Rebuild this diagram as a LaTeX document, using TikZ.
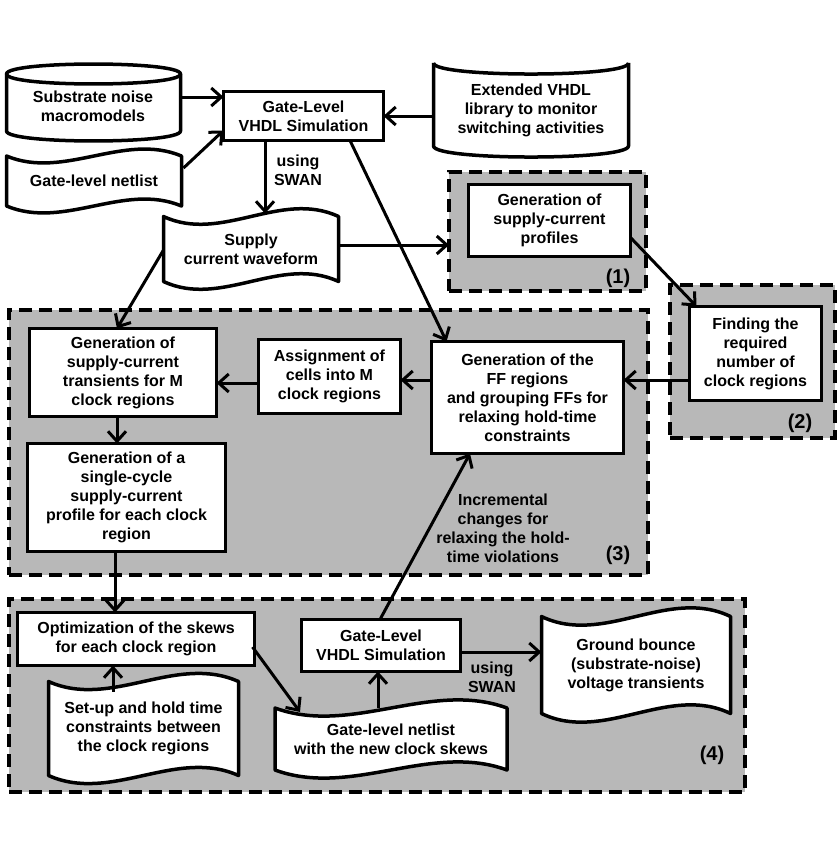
\documentclass[tikz,border=0pt]{standalone}
\usepackage{fontspec}
\setmainfont{Liberation Sans}
\usetikzlibrary{arrows.meta,calc}
\pgfdeclarelayer{bg}
\pgfdeclarelayer{mid}
\pgfsetlayers{bg,mid,main}
\newcommand\tapeoutline[2]{%
  \draw[boxline, fill=white] (#1.north west)
    .. controls ($(#1.north west)!0.33!(#1.north east)+(0,#2)$) and ($(#1.north west)!0.67!(#1.north east)+(0,-#2)$) .. (#1.north east)
    -- (#1.south east)
    .. controls ($(#1.south west)!0.67!(#1.south east)+(0,-#2)$) and ($(#1.south west)!0.33!(#1.south east)+(0,#2)$) .. (#1.south west)
    -- cycle;}
\tikzset{
  txt/.style={font=\fontsize{16}{19}\selectfont\bfseries, align=center, inner sep=0pt, outer sep=0pt},
  numlbl/.style={font=\fontsize{20}{22}\selectfont\bfseries, inner sep=0pt, outer sep=0pt},
  blk/.style={txt, draw, fill=white, line width=3.5pt},
  region/.style={draw, fill=black!28, line width=4pt, dash pattern=on 13pt off 7pt, inner sep=0pt, outer sep=0pt},
  arr/.style={line width=3pt, -{Straight Barb[length=10pt,width=18pt]}},
  boxline/.style={line width=3.5pt, line join=round},
}
\begin{document}
\begin{tikzpicture}[x=1pt,y=-1pt]
\begin{pgfonlayer}{bg}
  \fill[white] (0,0) rectangle (840,859);
  \node[region, minimum width=197pt, minimum height=119pt] (r1) at (547.5,231.5) {};
  \node[region, minimum width=165pt, minimum height=153pt] (r2) at (752.5,361.5) {};
  \node[region, minimum width=639pt, minimum height=265pt] (r3) at (328.5,442.5) {};
  \node[region, minimum width=736pt, minimum height=193pt] (r4) at (377,695.5) {};
\end{pgfonlayer}
\useasboundingbox (0,0) rectangle (840,859);

% cylinders and tapes (text nodes)
\node[txt, minimum width=174pt, minimum height=60pt] (sub) at (93,106) {Substrate noise\\macromodels};
\node[txt, minimum width=195pt, minimum height=80pt] (ext) at (531,110) {Extended VHDL\\library to monitor\\switching activities};
\node[txt, minimum width=175pt, minimum height=50pt] (net1) at (94,181) {Gate-level netlist};
\node[txt, minimum width=175pt, minimum height=65pt] (supply) at (251,249) {Supply\\current waveform};
\node[txt, minimum width=190pt, minimum height=94pt] (setup) at (143.5,728.5) {Set-up and hold time\\constraints between\\the clock regions};
\node[txt, minimum width=232pt, minimum height=62pt] (netnew) at (391,739) {Gate-level netlist\\with the new clock skews};
\node[txt, minimum width=189pt, minimum height=97pt] (ground) at (636,665) {Ground bounce\\(substrate-noise)\\voltage transients};

\begin{pgfonlayer}{mid}
  \draw[boxline, fill=white] (6.5,74) -- (6.5,131) .. controls (6.5,144.3) and (180.5,144.3) .. (180.5,131)
     -- (180.5,74) .. controls (180.5,60.7) and (6.5,60.7) .. cycle;
  \draw[boxline] (6.5,74) .. controls (6.5,87.3) and (180.5,87.3) .. (180.5,74);
  \draw[boxline, fill=white] (433.5,63) -- (433.5,146) .. controls (433.5,160.7) and (628.5,160.7) .. (628.5,146) -- (628.5,63);
  \draw[boxline] (433.5,63) .. controls (433.5,77.7) and (628.5,77.7) .. (628.5,63);
  \tapeoutline{net1}{24}
  \tapeoutline{supply}{27}
  \tapeoutline{setup}{28}
  \tapeoutline{netnew}{28}
  \tapeoutline{ground}{30}
\end{pgfonlayer}

% boxes
\node[blk, minimum width=160pt, minimum height=49pt] (gl1) at (303.5,116) {Gate-Level\\VHDL Simulation};
\node[blk, minimum width=162pt, minimum height=72pt] (gen1) at (549.5,220.5) {Generation of\\supply-current\\profiles};
\node[blk, minimum width=132pt, minimum height=94pt] (find) at (755.5,353.5) {Finding the\\required\\number of\\clock regions};
\node[blk, minimum width=187pt, minimum height=88pt] (trans) at (123,372.5) {Generation of\\supply-current\\transients for M\\clock regions};
\node[blk, minimum width=142pt, minimum height=74pt] (assign) at (329.5,376.5) {Assignment of\\cells into M\\clock regions};
\node[blk, minimum width=192pt, minimum height=112pt] (ffreg) at (527.5,397.5) {Generation of the\\FF regions\\and grouping FFs for\\relaxing hold-time\\constraints};
\node[blk, minimum width=198pt, minimum height=108pt] (single) at (126.5,497.5) {Generation of a\\single-cycle\\supply-current\\profile for each clock\\region};
\node[blk, minimum width=237pt, minimum height=53pt] (opt) at (136,639) {Optimization of the skews\\for each clock region};
\node[blk, minimum width=159pt, minimum height=52pt] (gl2) at (381,645.5) {Gate-Level\\VHDL Simulation};

% labels
\node[txt] (swan1) at (298,170) {using\\SWAN};
\node[txt] (swan2) at (492,677) {using\\SWAN};
\node[txt] (incr) at (503,528) {Incremental\\changes for\\relaxing the hold-\\time violations};
\node[numlbl] (l1) at (618,278) {(1)};
\node[numlbl] (l2) at (800,423) {(2)};
\node[numlbl] (l3) at (618,555) {(3)};
\node[numlbl] (l4) at (712,755) {(4)};

% connectors
\draw[arr] ($(sub.east)+(0,-9)$) -- ($(gl1.west)+(0,-19)$);
\draw[arr] ($(net1.east)+(2,-13)$) -- ($(gl1.south west)+(0,-10)$);
\draw[arr] ($(ext.west)+(0,6)$) -- (gl1.east);
\draw[arr] ($(gl1.south)+(-38.5,0)$) -- ($(supply.north)+(14,-3)$);
\draw[arr] ($(supply.east)+(0,-4)$) -- ($(r1.west)+(0,13.5)$);
\draw[arr] ($(gen1.east)+(0,17)$) -- ($(find.north west)+(7,0)$);
\draw[arr] ($(find.west)+(0,26.5)$) -- ($(ffreg.east)+(0,-17.5)$);
\draw[arr] ($(ffreg.west)+(0,-17.5)$) -- ($(assign.east)+(0,3.5)$);
\draw[arr] ($(assign.west)+(0,6.5)$) -- ($(trans.east)+(0,10.5)$);
\draw[arr] ($(trans.south)+(-6,0)$) -- ($(single.north)+(-9.5,0)$);
\draw[arr] ($(supply.west)+(0,1)$) -- ($(trans.north)+(-6,0)$);
\draw[arr] ($(gl1.south)+(46.5,0)$) -- ($(ffreg.north west)+(15,0)$);
\draw[arr] ($(single.south)+(-11.5,0)$) -- ($(opt.north)+(-21,0)$);
\draw[arr] ($(setup.north)+(-30.5,10)$) -- ($(opt.south)+(-23,0)$);
\draw[arr] ($(opt.east)+(-2,8)$) -- ($(netnew.north west)+(25,4)$);
\draw[arr] ($(netnew.north)+(-13,0)$) -- ($(gl2.south)+(-3,0)$);
\draw[arr] ($(gl2.east)+(0,6.5)$) -- ($(ground.west)+(0,-13)$);
\draw[arr] ($(gl2.north)+(-1,0)$) -- ($(ffreg.south)+(-57.5,0)$);
\end{tikzpicture}
\end{document}
